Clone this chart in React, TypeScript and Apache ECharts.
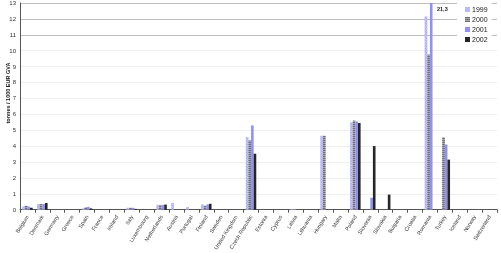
import React, { useEffect, useRef } from "react";
import * as echarts from "echarts";

const countries = [
  "Belgium", "Denmark", "Germany", "Greece", "Spain", "France", "Ireland", "Italy",
  "Luxembourg", "Netherlands", "Austria", "Portugal", "Finland", "Sweden",
  "United Kingdom", "Czech Republic", "Estonia", "Cyprus", "Latvia", "Lithuania",
  "Hungary", "Malta", "Poland", "Slovenia", "Slovakia", "Bulgaria", "Croatia",
  "Romania", "Turkey", "Iceland", "Norway", "Switzerland",
];
const years = ["1999", "2000", "2001", "2002"];

const v1999 = [0.2, 0.35, null, null, 0.08, null, null, 0.12, null, 0.3, 0.42, 0.17, 0.33, null, null, 4.56, null, null, 0.04, null, 4.65, null, 5.5, null, null, null, null, 12.15, null, null, null, null];
const v2000 = [0.25, 0.35, null, null, 0.15, null, null, 0.12, null, 0.3, null, null, 0.25, null, null, 4.35, null, null, 0.04, null, 4.65, null, 5.6, null, null, null, null, 9.75, 4.55, null, null, null];
const v2001 = [0.2, 0.35, null, null, 0.18, null, null, 0.12, null, 0.3, null, null, 0.33, null, null, 5.3, null, null, null, null, null, null, 5.55, 0.75, null, null, null, 21.3, 4.1, null, null, null];
const v2002 = [0.12, 0.42, null, null, 0.08, null, null, 0.05, null, 0.32, null, null, 0.37, null, null, 3.52, null, null, null, null, null, null, 5.45, 4.0, 0.95, null, null, null, 3.15, null, null, null];

const yTicks = [0, 1, 2, 3, 4, 5, 6, 7, 8, 9, 10, 11, 12, 13];
const clippedLabel = "21,3";
const yTitle = "tonnes / 1000 EUR GVA";

const colors = ["#a2a2f2", "#a3a3a3", "#9191f5", "#262626"];

export default function App() {
  const ref = useRef<HTMLDivElement>(null);
  useEffect(() => {
    const chart = echarts.init(ref.current!, undefined, { renderer: "svg" });
    const dataSets = [v1999, v2000, v2001, v2002];
    const decals: any[] = [
      { symbol: "rect", symbolSize: 1, color: "rgba(255,255,255,0.5)", dashArrayX: [1, 0], dashArrayY: [1, 1], rotation: Math.PI / 4 },
      { symbol: "rect", symbolSize: 1, color: "rgba(80,80,80,0.6)", dashArrayX: [1, 0], dashArrayY: [1, 1], rotation: 0 },
      null,
      null,
    ];
    const splitColors = yTicks.map((t) => (t === 11 || t === 12 || t === 13 ? "#bdbdbd" : "#efefef"));
    chart.setOption({
      animation: false,
      color: colors,
      grid: { left: 20, right: 4, top: 3, bottom: 41, containLabel: false },
      legend: {
        orient: "vertical",
        left: 457,
        top: 2,
        padding: [4, 4, 4, 8],
        backgroundColor: "#ffffff",
        itemWidth: 5,
        itemHeight: 5,
        itemGap: 3,
        icon: "rect",
        data: years,
        textStyle: { fontSize: 7, fontFamily: "Liberation Sans", color: "#222", padding: [0, 0, 0, -3] },
      },
      xAxis: {
        type: "category",
        data: countries,
        axisLine: { lineStyle: { color: "#555", width: 1 } },
        axisTick: { show: true, length: 3, lineStyle: { color: "#555" } },
        axisLabel: { rotate: 58, fontSize: 5.5, fontFamily: "Liberation Sans", color: "#333", margin: 6, interval: 0 },
        splitLine: { show: false },
      },
      yAxis: {
        type: "value",
        min: 0,
        max: 13,
        interval: 1,
        axisLine: { show: true, lineStyle: { color: "#555" } },
        axisTick: { show: false },
        axisLabel: { fontSize: 6, fontFamily: "Liberation Sans", color: "#333", margin: 4 },
        splitLine: { show: true, lineStyle: { color: splitColors, width: 1 } },
      },
      series: years.map((y, i) => ({
        name: y,
        type: "bar",
        data: dataSets[i],
        barGap: "0%",
        barCategoryGap: "30%",
        clip: true,
        itemStyle: {
          color: colors[i],
          ...(decals[i] ? { decal: decals[i] } : {}),
        },
      })),
      graphic: [
        {
          type: "text",
          left: 437,
          top: 6,
          style: { text: clippedLabel, fontSize: 5.5, fontWeight: "bold", fill: "#222", fontFamily: "Liberation Sans" },
        },
        {
          type: "text",
          x: 8,
          y: 93,
          rotation: Math.PI / 2,
          style: { text: yTitle, fontSize: 5.5, fontWeight: "bold", fill: "#222", fontFamily: "Liberation Sans", align: "center", verticalAlign: "middle" },
        },
      ],
    });
    return () => chart.dispose();
  }, []);
  return <div ref={ref} style={{ position: "fixed", left: 0, top: 0, width: 501, height: 253 }} />;
}
